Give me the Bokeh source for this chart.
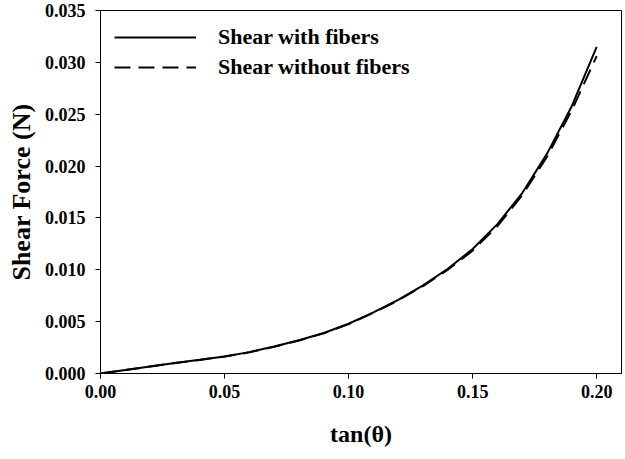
from bokeh.plotting import figure
from bokeh.models import Legend, LegendItem, FixedTicker, NumeralTickFormatter, Range1d
from bokeh.embed import file_html
from bokeh.resources import INLINE

# Data
tan_theta = [0.00, 0.01, 0.02, 0.03, 0.04, 0.05, 0.06, 0.07, 0.08, 0.09, 0.10,
             0.11, 0.12, 0.13, 0.14, 0.15, 0.16, 0.17, 0.18, 0.19, 0.20]
shear_with_fibers = [0.0, 0.00033, 0.00068, 0.00102, 0.00132, 0.00164, 0.00206,
                     0.0026, 0.0032, 0.0039, 0.0048, 0.0059, 0.0071, 0.0085,
                     0.0101, 0.0120, 0.0144, 0.0174, 0.0212, 0.0258, 0.0315]
shear_without_fibers = [0.0, 0.00033, 0.00067, 0.00101, 0.00131, 0.00163, 0.00204,
                        0.00258, 0.00318, 0.00388, 0.00476, 0.00585, 0.00705, 0.00843,
                        0.01, 0.01185, 0.0142, 0.0172, 0.0209, 0.0254, 0.0306]
x_ticks = [0.0, 0.05, 0.10, 0.15, 0.20]
y_ticks = [0.0, 0.005, 0.010, 0.015, 0.020, 0.025, 0.030, 0.035]

FONT = "Liberation Serif"

p = figure(width=623, height=456, output_backend="svg", toolbar_location=None,
           x_range=Range1d(0, 0.21), y_range=Range1d(0, 0.035),
           min_border_left=100, min_border_right=2, min_border_top=10, min_border_bottom=83)
p.xgrid.visible = False
p.ygrid.visible = False
p.outline_line_color = "black"
p.outline_line_width = 1
p.background_fill_color = "white"
p.border_fill_color = "white"

r1 = p.line(tan_theta, shear_with_fibers, line_color="black", line_width=2)
r2 = p.line(tan_theta, shear_without_fibers, line_color="black", line_width=2,
            line_dash="16 8")

for ax in (p.xaxis[0], p.yaxis[0]):
    ax.axis_line_color = "black"
    ax.major_tick_line_color = "black"
    ax.minor_tick_line_color = None
    ax.major_tick_in = 0
    ax.major_label_text_font = FONT
    ax.major_label_text_font_style = "bold"
    ax.major_label_text_font_size = "18px"
    ax.major_label_text_color = "black"
    ax.axis_label_text_font = FONT
    ax.axis_label_text_font_style = "bold"
    ax.axis_label_text_color = "black"

p.xaxis[0].ticker = FixedTicker(ticks=x_ticks)
p.xaxis[0].formatter = NumeralTickFormatter(format="0.00")
p.xaxis[0].major_tick_out = 5
p.xaxis[0].major_label_standoff = 6
p.xaxis[0].axis_label = "tan(θ)"
p.xaxis[0].axis_label_text_font_size = "24px"
p.xaxis[0].axis_label_standoff = 20

p.yaxis[0].ticker = FixedTicker(ticks=y_ticks)
p.yaxis[0].formatter = NumeralTickFormatter(format="0.000")
p.yaxis[0].major_tick_out = 5
p.yaxis[0].major_label_standoff = 10
p.yaxis[0].axis_label = "Shear Force (N)"
p.yaxis[0].axis_label_text_font_size = "26px"
p.yaxis[0].axis_label_standoff = 6

legend = Legend(items=[LegendItem(label="Shear with fibers", renderers=[r1]),
                       LegendItem(label="Shear without fibers", renderers=[r2])],
                location="top_left", border_line_color=None, background_fill_alpha=0,
                glyph_width=82, glyph_height=20, label_height=20, spacing=4,
                label_standoff=22, padding=0, margin=14,
                label_text_font=FONT, label_text_font_style="bold",
                label_text_font_size="22px", label_text_color="black")
p.add_layout(legend)

open("out.html", "w").write(file_html(p, INLINE))
